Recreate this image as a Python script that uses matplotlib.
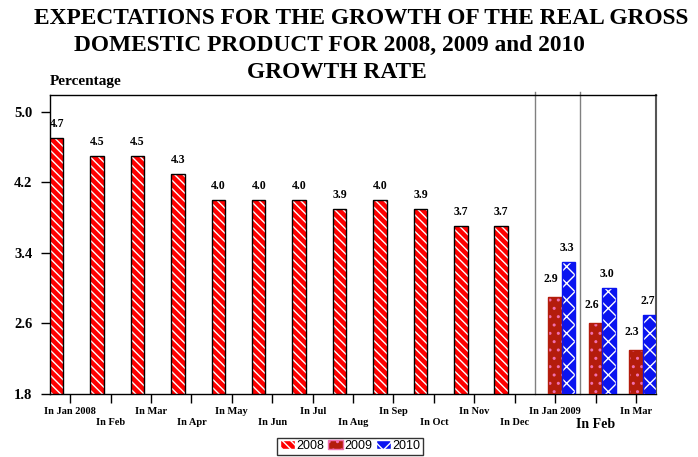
import matplotlib
matplotlib.use("Agg")
import matplotlib.pyplot as plt
import matplotlib.patches as patches
import numpy as np

months = ["In Jan 2008", "In Feb", "In Mar", "In Apr", "In May", "In Jun",
          "In Jul", "In Aug", "In Sep", "In Oct", "In Nov", "In Dec",
          "In Jan 2009", "In Feb", "In Mar"]
growth_2008 = [4.7, 4.5, 4.5, 4.3, 4.0, 4.0, 4.0, 3.9, 4.0, 3.9, 3.7, 3.7,
               None, None, None]
growth_2009 = [None] * 12 + [2.9, 2.6, 2.3]
growth_2010 = [None] * 12 + [3.3, 3.0, 2.7]
y_ticks = [1.8, 2.6, 3.4, 4.2, 5.0]

serif = "Liberation Serif"

fig = plt.figure(figsize=(6.98, 4.57), dpi=100)
ax = fig.add_axes([0.0716, 0.1379, 0.8684, 0.6542])

x = np.arange(len(months))
w = 1 / 3

# style per series: (values, offset, face, hatch colour, hatch, outline, label offset in px)
series = [
    ("2008", growth_2008, -w, "#FF0000", "white", "\\\\\\\\", "black", (0, 8)),
    ("2009", growth_2009, 0, "#B41C0C", "#F070B0", "..", "#B41C0C", (-4, 12)),
    ("2010", growth_2010, w, "#0A14F0", "white", "xx", "#0A14F0", (-2, 8)),
]

handles = []
for name, vals, off, face, hcol, hatch, outline, (dx, dy) in series:
    idx = [i for i, v in enumerate(vals) if v is not None]
    hv = [vals[i] - 1.8 for i in idx]
    xs = x[idx] + off
    ax.bar(xs, hv, width=w, bottom=1.8, color=face, edgecolor=hcol,
           hatch=hatch, linewidth=0, zorder=3)
    ax.bar(xs, hv, width=w, bottom=1.8, fill=False, edgecolor=outline,
           linewidth=1, zorder=4)
    for xi, i in zip(xs, idx):
        ax.annotate(f"{vals[i]:.1f}", (xi, vals[i]), xytext=(dx * 0.72, dy * 0.72),
                    textcoords="offset points", ha="center", va="bottom",
                    fontsize=8.5, fontweight="bold", family=serif)
    handles.append(patches.Patch(facecolor=face, edgecolor=hcol, hatch=hatch,
                                 label=name))

# separators for the 2009 forecasts
for sx in [11.5, 12.61]:
    ax.plot([sx, sx], [1.8, 5.22], color="#808080", lw=1, clip_on=False, zorder=2)

ax.set_xlim(-0.5, 14.5)
ax.set_ylim(1.8, 5.19)
ax.set_yticks(y_ticks)
ax.set_yticklabels([f"{v:.1f}" for v in y_ticks], fontsize=10.5,
                   fontweight="bold", family=serif)
ax.set_xticks(x)
ax.set_xticklabels(months, fontsize=7.5, fontweight="bold", family=serif)
ax.tick_params(axis="x", direction="out", length=6.5, width=1, pad=3)
ax.tick_params(axis="y", direction="out", length=6.5, width=1, pad=6)
for i, lab in enumerate(ax.get_xticklabels()):
    if i % 2 == 1:
        lab.set_y(-0.037)
    if i == 13:
        lab.set_fontsize(10)
for s in ax.spines.values():
    s.set_color("black")
    s.set_linewidth(1)
ax.spines["right"].set_color("#555555")
ax.spines["right"].set_linewidth(1.5)

fig.text(50 / 698, 1 - 81 / 457, "Percentage", fontsize=11, fontweight="bold",
         family=serif, va="center", ha="left")

fig.text(361 / 698, 1 - 18 / 457, "EXPECTATIONS FOR THE GROWTH OF THE REAL GROSS",
         fontsize=16.8, fontweight="bold", family=serif, ha="center", va="center")
fig.text(329 / 698, 1 - 45 / 457, "DOMESTIC PRODUCT FOR 2008, 2009 and 2010",
         fontsize=16.8, fontweight="bold", family=serif, ha="center", va="center")
fig.text(337 / 698, 1 - 72 / 457, "GROWTH RATE",
         fontsize=16.8, fontweight="bold", family=serif, ha="center", va="center")

leg = fig.legend(handles=handles, loc="center", bbox_to_anchor=(350 / 698, 1 - 446 / 457),
                 ncol=3, frameon=True, fancybox=False, edgecolor="black",
                 prop={"family": "Liberation Sans", "size": 9},
                 handlelength=1.2, handleheight=0.7, handletextpad=0.1,
                 columnspacing=0.3, borderpad=0.2, borderaxespad=0)
leg.get_frame().set_linewidth(1)

fig.savefig("out.png", dpi=100)
